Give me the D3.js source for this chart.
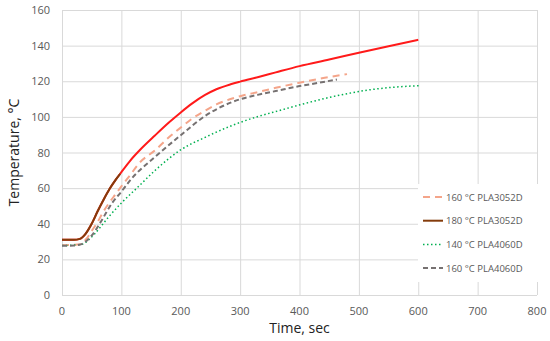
<!DOCTYPE html>
<html lang="en">
<head>
    <meta charset="UTF-8">
    <script src="https://cdn.jsdelivr.net/npm/d3@7"></script>
    <title>Temperature vs time</title>
    <style>
        html, body {
            margin: 0px;
            padding: 0px;
            background-color: #ffffff;
            font-family: "Open Sans", sans-serif;
        }
    </style>
</head>
<body>
    <div id="chart"></div>

    <script>
        // series: [time sec, temperature C]
        let red_180 = [[0,31],[10,31],[20,31],[30,31.5],[40,34.5],[50,40],[60,47],[70,53.5],[80,59.5],[90,64.5],[100,69],[115,75.5],[130,81],[157,89.7],[180,96.8],[200,102.5],[220,107.7],[241,112.3],[260,115.5],[284,118.3],[300,119.8],[331,122.4],[360,125],[400,128.5],[450,132.2],[500,136],[550,139.7],[600,143.3]];
        let brown_180 = [[0,31],[10,31],[20,31],[30,31.5],[40,34.5],[50,40],[60,47],[70,53.5],[80,59.5],[90,64.5],[98,68]];
        let pink_160 = [[0,28],[20,28.2],[30,28.5],[40,31],[50,36],[60,41],[70,47],[80,52],[90,56.5],[100,61],[115,67.4],[130,74],[157,81.3],[180,88.5],[200,94],[220,99.2],[241,103.5],[260,107],[284,110],[300,111.6],[331,114],[360,116.3],[400,119.2],[440,121.8],[480,124]];
        let green_140 = [[0,27.8],[20,28],[34,28.5],[45,31],[56,34.7],[79,44],[101,52],[126,60],[157,70],[199,81.3],[241,88.5],[289,95.5],[331,100.3],[360,103],[401,106.8],[458,111.5],[514,115],[560,116.7],[601,117.5]];
        let gray_160 = [[0,27.6],[20,27.8],[34,28.7],[40,30],[51,33.8],[67,42],[84,51.5],[100,58],[115,64.5],[157,77.6],[200,89.7],[241,100.5],[284,108],[331,112.5],[360,114.5],[400,117.3],[430,119],[463,121]];

        let x_ticks = [0, 100, 200, 300, 400, 500, 600, 700, 800];
        let y_ticks = [0, 20, 40, 60, 80, 100, 120, 140, 160];

        let series = [
            { name: 'red', data: red_180, colour: '#ff1a1a', dash: null, width: 2 },
            { name: '160 °C PLA3052D', data: pink_160, colour: '#f4a58a', dash: '7,5', width: 2 },
            { name: '140 °C PLA4060D', data: green_140, colour: '#00b050', dash: '1.5,2.5', width: 1.5 },
            { name: '160 °C PLA4060D', data: gray_160, colour: '#767171', dash: '5,3', width: 2 },
            { name: '180 °C PLA3052D', data: brown_180, colour: '#843c0c', dash: null, width: 2 }
        ];
        let legend_order = ['160 °C PLA3052D', '180 °C PLA3052D', '140 °C PLA4060D', '160 °C PLA4060D'];

        let width = 550, height = 341;
        let margin = { top: 10, right: 13, bottom: 46, left: 62 };

        let svg = d3.select('#chart').append('svg').attr('width', width).attr('height', height);

        let x = d3.scaleLinear().domain([0, 800]).range([margin.left, width - margin.right]);
        let y = d3.scaleLinear().domain([0, 160]).range([height - margin.bottom, margin.top]);

        // gridlines
        svg.append('g').selectAll('line')
            .data(y_ticks)
            .join('line')
            .attr('x1', x(0)).attr('x2', x(800))
            .attr('y1', d => y(d) + 0.5).attr('y2', d => y(d) + 0.5)
            .attr('stroke', '#d9d9d9');
        svg.append('g').selectAll('line')
            .data(x_ticks)
            .join('line')
            .attr('y1', y(0)).attr('y2', y(160))
            .attr('x1', d => x(d) + 0.5).attr('x2', d => x(d) + 0.5)
            .attr('stroke', '#d9d9d9');

        // tick labels
        svg.append('g').selectAll('text')
            .data(y_ticks)
            .join('text')
            .attr('x', margin.left - 12)
            .attr('y', d => y(d) + 4)
            .attr('text-anchor', 'end')
            .attr('font-size', 11)
            .attr('fill', '#595959')
            .text(d => d);
        svg.append('g').selectAll('text')
            .data(x_ticks)
            .join('text')
            .attr('x', d => x(d))
            .attr('y', y(0) + 20)
            .attr('text-anchor', 'middle')
            .attr('font-size', 11)
            .attr('fill', '#595959')
            .text(d => d);

        // axis titles
        svg.append('text')
            .attr('x', (x(0) + x(800)) / 2)
            .attr('y', 333)
            .attr('text-anchor', 'middle')
            .attr('font-size', 14)
            .attr('fill', '#222')
            .text('Time, sec');
        svg.append('text')
            .attr('transform', `translate(19,${(y(0) + y(160)) / 2}) rotate(-90)`)
            .attr('text-anchor', 'middle')
            .attr('font-size', 14)
            .attr('fill', '#222')
            .text('Temperature, °C');

        let line = d3.line()
            .x(d => x(d[0]))
            .y(d => y(d[1]))
            .curve(d3.curveMonotoneX);

        svg.append('g').selectAll('path')
            .data(series)
            .join('path')
            .attr('d', s => line(s.data))
            .attr('fill', 'none')
            .attr('stroke', s => s.colour)
            .attr('stroke-width', s => s.width)
            .attr('stroke-dasharray', s => s.dash);

        // legend
        let legend = svg.append('g');
        legend.append('rect')
            .attr('x', 418).attr('y', 184)
            .attr('width', 128).attr('height', 98)
            .attr('fill', '#fff');
        let items = legend.selectAll('g.item')
            .data(legend_order.map(n => series.find(s => s.name === n)))
            .join('g')
            .attr('class', 'item')
            .attr('transform', (d, i) => `translate(0,${197 + i * 23.7})`);
        items.append('line')
            .attr('x1', 423).attr('x2', 443)
            .attr('y1', 0).attr('y2', 0)
            .attr('stroke', d => d.colour)
            .attr('stroke-width', d => d.width)
            .attr('stroke-dasharray', d => d.dash);
        items.append('text')
            .attr('x', 446)
            .attr('y', 3.5)
            .attr('font-size', 9.5)
            .attr('fill', '#595959')
            .text(d => d.name);
    </script>
</body>
</html>
